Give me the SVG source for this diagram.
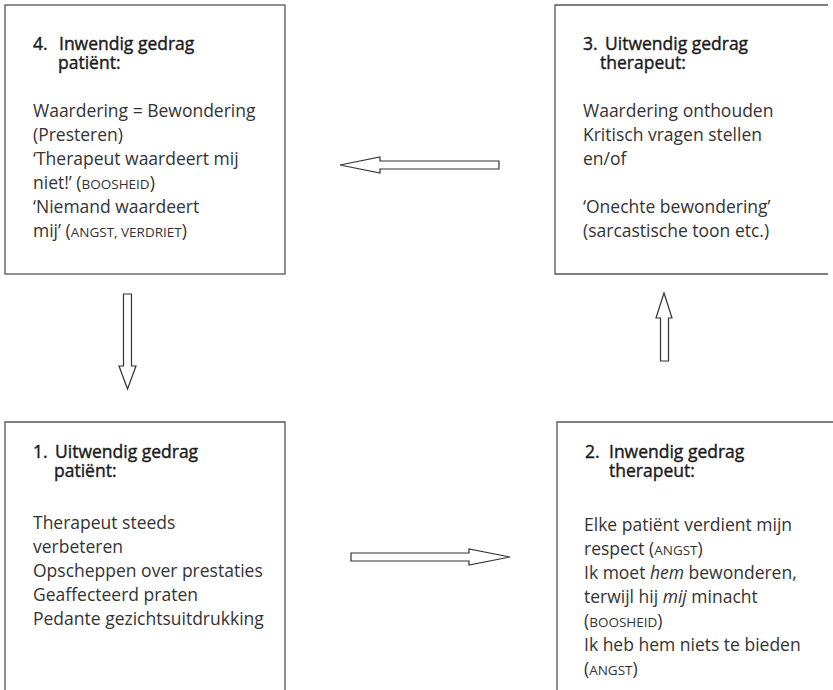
<svg xmlns="http://www.w3.org/2000/svg" width="833" height="690" viewBox="0 0 833 690">
<style>
.box{fill:none;stroke:#555;stroke-width:1.3}
.arrow{fill:#fff;stroke:#333;stroke-width:1.2;stroke-linejoin:miter}
text{font-family:"Open Sans","Noto Sans","DejaVu Sans",sans-serif;fill:#333;font-size:17.5px}
.h{font-size:17.5px;fill:#1a1a1a;stroke:#1a1a1a;stroke-width:0.4}
.sc{font-size:13.5px}
.it{font-style:italic}
</style>
<rect width="833" height="690" fill="#fff"/>
<g id="node4">
<rect class="box" x="5" y="5" width="280" height="269"/>
<text class="h"><tspan x="33" y="50">4.</tspan><tspan x="59" y="50">Inwendig gedrag</tspan><tspan x="58" y="69">patiënt:</tspan></text>
<text x="33" y="117">Waardering = Bewondering</text>
<text x="33" y="141">(Presteren)</text>
<text x="33" y="165">‘Therapeut waardeert mij</text>
<text x="33" y="189">niet!’ (<tspan class="sc">BOOSHEID</tspan>)</text>
<text x="33" y="213">‘Niemand waardeert</text>
<text x="33" y="237">mij’ (<tspan class="sc">ANGST, VERDRIET</tspan>)</text>
</g>
<g id="node3">
<path class="box" d="M828,5 H555 V274 H828"/>
<text class="h"><tspan x="583" y="50">3.</tspan><tspan x="605" y="50">Uitwendig gedrag</tspan><tspan x="600" y="69">therapeut:</tspan></text>
<text x="583" y="117">Waardering onthouden</text>
<text x="583" y="141">Kritisch vragen stellen</text>
<text x="583" y="165">en/of</text>
<text x="583" y="213">‘Onechte bewondering’</text>
<text x="583" y="237">(sarcastische toon etc.)</text>
</g>
<g id="node1">
<path class="box" d="M5,690 V422 H285 V690"/>
<text class="h"><tspan x="33" y="458">1.</tspan><tspan x="55" y="458">Uitwendig gedrag</tspan><tspan x="54" y="477">patiënt:</tspan></text>
<text x="33" y="529">Therapeut steeds</text>
<text x="33" y="553">verbeteren</text>
<text x="33" y="577">Opscheppen over prestaties</text>
<text x="33" y="601">Geaffecteerd praten</text>
<text x="33" y="625">Pedante gezichtsuitdrukking</text>
</g>
<g id="node2">
<path class="box" d="M557,690 V422 H833"/>
<text class="h"><tspan x="585" y="458">2.</tspan><tspan x="609" y="458">Inwendig gedrag</tspan><tspan x="609" y="477">therapeut:</tspan></text>
<text x="584" y="531">Elke patiënt verdient mijn</text>
<text x="584" y="555">respect (<tspan class="sc">ANGST</tspan>)</text>
<text x="584" y="579">Ik moet <tspan class="it">hem</tspan> bewonderen,</text>
<text x="584" y="603">terwijl hij <tspan class="it">mij</tspan> minacht</text>
<text x="584" y="627">(<tspan class="sc">BOOSHEID</tspan>)</text>
<text x="584" y="651">Ik heb hem niets te bieden</text>
<text x="584" y="675">(<tspan class="sc">ANGST</tspan>)</text>
</g>
<g id="connectors">
<polygon class="arrow" points="499,161 380,161 380,157 340,165 380,173 380,169 499,169"/>
<polygon class="arrow" points="123.5,294 131.5,294 131.5,366 136,366 127.5,389 119,366 123.5,366"/>
<polygon class="arrow" points="660.5,361 660.5,318 656,318 664,293 672,318 668.5,318 668.5,361"/>
<polygon class="arrow" points="351,553 469,553 469,549 510,557 469,565 469,561 351,561"/>
</g>
</svg>
